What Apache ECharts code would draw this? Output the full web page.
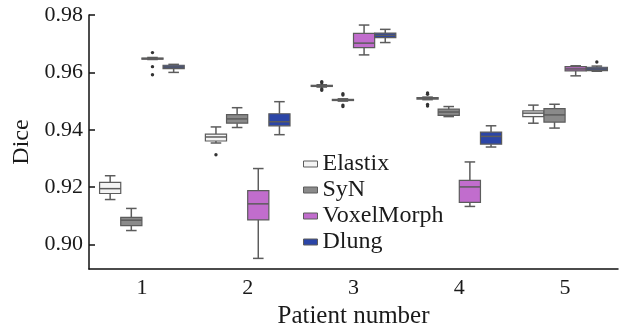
<!DOCTYPE html>
<html>
<head>
<meta charset="utf-8">
<script src="https://cdn.jsdelivr.net/npm/echarts@6/dist/echarts.min.js"></script>
<style>
  html, body { margin: 0; padding: 0; background: #fff; }
  #chart { width: 631px; height: 328px; }
</style>
</head>
<body>
<div id="chart"></div>
<script>
const categories = ["1", "2", "3", "4", "5"];
const yTicks = [0.9, 0.92, 0.94, 0.96, 0.98];
const methods = ["Elastix", "SyN", "VoxelMorph", "Dlung"];
const colors = ["#f4f4f4", "#8a8a8a", "#c16dcd", "#2b45a7"];

// [min, q1, median, q3, max] per patient
const elastix = [
  [0.9157, 0.9178, 0.9195, 0.9217, 0.9240],
  [0.9354, 0.9361, 0.9375, 0.9385, 0.9410],
  [0.9549, 0.9551, 0.9553, 0.9555, 0.9557],
  [0.9505, 0.9507, 0.9510, 0.9512, 0.9514],
  [0.9423, 0.9446, 0.9458, 0.9466, 0.9486],
];
const syn = [
  [0.9049, 0.9066, 0.9085, 0.9095, 0.9126],
  [0.9408, 0.9423, 0.9438, 0.9453, 0.9477],
  [0.9500, 0.9502, 0.9504, 0.9506, 0.9508],
  [0.9446, 0.9450, 0.9462, 0.9472, 0.9481],
  [0.9406, 0.9427, 0.9452, 0.9474, 0.9489],
];
const voxelmorph = [
  [0.9645, 0.9646, 0.9648, 0.9650, 0.9652],
  [0.8952, 0.9086, 0.9142, 0.9188, 0.9265],
  [0.9661, 0.9686, 0.9702, 0.9736, 0.9765],
  [0.9133, 0.9147, 0.9201, 0.9224, 0.9288],
  [0.9588, 0.9605, 0.9612, 0.9620, 0.9623],
];
const dlung = [
  [0.9600, 0.9613, 0.9619, 0.9625, 0.9628],
  [0.9383, 0.9414, 0.9428, 0.9456, 0.9498],
  [0.9704, 0.9721, 0.9729, 0.9737, 0.9750],
  [0.9340, 0.9350, 0.9377, 0.9392, 0.9414],
  [0.9604, 0.9606, 0.9612, 0.9618, 0.9622],
];
// outliers: [patient index, method index, value]
const outliers = [
  [0, 2, 0.9669], [0, 2, 0.9620], [0, 2, 0.9592],
  [1, 0, 0.9313],
  [2, 0, 0.9568], [2, 0, 0.9564], [2, 0, 0.9542], [2, 0, 0.9538],
  [2, 1, 0.9526], [2, 1, 0.9521], [2, 1, 0.9486], [2, 1, 0.9481],
  [3, 0, 0.9528], [3, 0, 0.9524], [3, 0, 0.9488], [3, 0, 0.9483],
  [4, 3, 0.9636],
];

const boxData = [elastix, syn, voxelmorph, dlung];
const font = "Liberation Serif";
const lineColor = "#5c5c5c";

function offsetFor(k, band) {
  const w = (band * 0.8) / 4;
  return { off: (k - 1.5) * w, w: w };
}

function boxRenderer(k) {
  return function (params, api) {
    const cat = api.value(0);
    const band = api.size([1, 0])[0];
    const g = offsetFor(k, band);
    const cx = api.coord([cat, 0])[0] + g.off;
    const y = (i) => api.coord([cat, api.value(i)])[1];
    const yMin = y(1), yQ1 = y(2), yMed = y(3), yQ3 = y(4), yMax = y(5);
    const half = g.w / 2;
    const cap = g.w / 4;
    const ls = { stroke: lineColor, lineWidth: 1.5 };
    return {
      type: "group",
      children: [
        { type: "line", shape: { x1: cx, y1: yQ3, x2: cx, y2: yMax }, style: ls },
        { type: "line", shape: { x1: cx, y1: yQ1, x2: cx, y2: yMin }, style: ls },
        { type: "line", shape: { x1: cx - cap, y1: yMax, x2: cx + cap, y2: yMax }, style: ls },
        { type: "line", shape: { x1: cx - cap, y1: yMin, x2: cx + cap, y2: yMin }, style: ls },
        {
          type: "rect",
          shape: { x: cx - half, y: yQ3, width: g.w, height: Math.max(yQ1 - yQ3, 1) },
          style: { fill: colors[k], stroke: lineColor, lineWidth: 1.2 },
        },
        { type: "line", shape: { x1: cx - half, y1: yMed, x2: cx + half, y2: yMed }, style: ls },
      ],
    };
  };
}

const series = methods.map(function (name, k) {
  return {
    name: name,
    type: "custom",
    renderItem: boxRenderer(k),
    itemStyle: { color: colors[k], borderColor: lineColor, borderWidth: 1 },
    encode: { x: 0, y: [1, 2, 3, 4, 5] },
    data: boxData[k].map((d, i) => [i].concat(d)),
    silent: true,
  };
});

series.push({
  name: "outliers",
  type: "custom",
  renderItem: function (params, api) {
    const cat = api.value(0);
    const band = api.size([1, 0])[0];
    const g = offsetFor(api.value(1), band);
    const cx = api.coord([cat, 0])[0] + g.off;
    const cy = api.coord([cat, api.value(2)])[1];
    return {
      type: "circle",
      shape: { cx: cx, cy: cy, r: 1.7 },
      style: { fill: "#333" },
    };
  },
  encode: { x: 0, y: 2 },
  data: outliers,
  silent: true,
});

const chart = echarts.init(document.getElementById("chart"));
chart.setOption({
  animation: false,
  grid: { left: 89, right: 13, top: 15, bottom: 59, containLabel: false, outerBoundsMode: "none" },
  legend: {
    orient: "vertical",
    left: 298,
    top: 147,
    itemWidth: 14,
    itemHeight: 6,
    itemGap: 2,
    icon: "rect",
    textStyle: { fontFamily: font, fontSize: 24, color: "#1a1a1a" },
    data: methods.map((m, k) => ({
      name: m,
      itemStyle: { color: colors[k], borderColor: lineColor, borderWidth: 1 },
    })),
  },
  xAxis: {
    type: "category",
    data: categories,
    boundaryGap: true,
    name: "Patient number",
    nameLocation: "middle",
    nameGap: 32,
    nameTextStyle: { fontFamily: font, fontSize: 25, color: "#1a1a1a" },
    axisLine: { lineStyle: { color: "#111", width: 1.5 } },
    axisTick: { alignWithLabel: true, inside: true, length: 6, lineStyle: { color: "#111", width: 1.5 } },
    axisLabel: { fontFamily: font, fontSize: 22, color: "#1a1a1a", margin: 8 },
    splitLine: { show: false },
  },
  yAxis: {
    type: "value",
    min: 0.8915,
    max: 0.98,
    name: "Dice",
    nameLocation: "middle",
    nameGap: 53,
    nameTextStyle: { fontFamily: font, fontSize: 24, color: "#1a1a1a" },
    axisLine: { show: true, lineStyle: { color: "#111", width: 1.5 } },
    axisTick: { show: true, inside: true, length: 6, customValues: yTicks, lineStyle: { color: "#111", width: 1.5 } },
    axisLabel: {
      fontFamily: font, fontSize: 22, color: "#1a1a1a", margin: 6,
      customValues: yTicks,
      formatter: (v) => v.toFixed(2),
    },
    splitLine: { show: false },
  },
  series: series,
});
</script>
</body>
</html>
